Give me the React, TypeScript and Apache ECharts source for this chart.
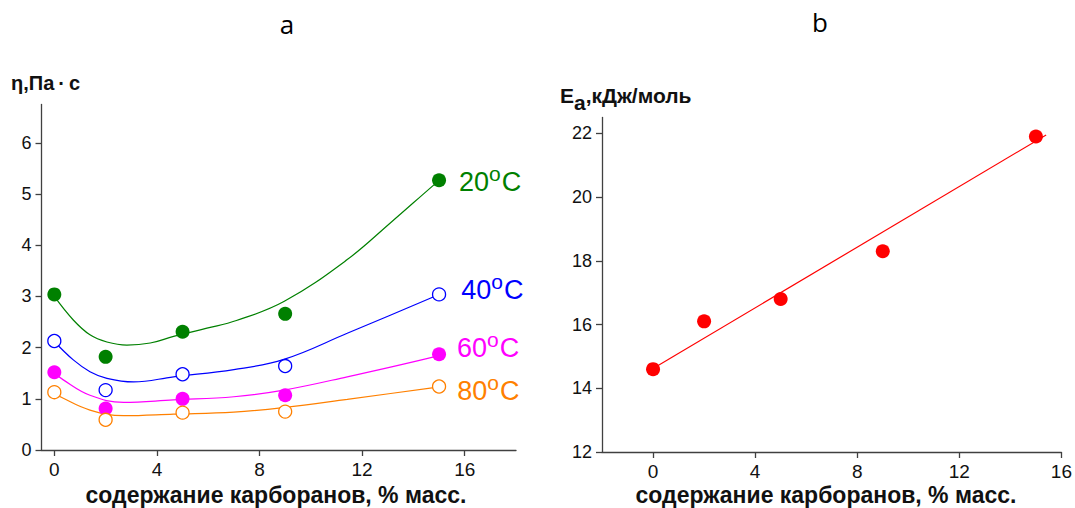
import React, { useEffect, useRef } from "react";
import * as echarts from "echarts";

// ---------- data ----------
const contentX = [0, 2, 5, 9, 15];

const eta20 = [3.04, 1.82, 2.31, 2.66, 5.27];
const eta40 = [2.13, 1.17, 1.48, 1.64, 3.04];
const eta60 = [1.52, 0.81, 1.0, 1.07, 1.87];
const eta80 = [1.13, 0.59, 0.73, 0.75, 1.24];

// fitted curves
const fit20X = [0, 0.74, 1.39, 2.05, 2.83, 3.74, 4.65, 5.95, 7.1, 8.95, 11.42, 13.11, 14.8, 15];
const fit20Y = [3.0, 2.54, 2.25, 2.11, 2.05, 2.09, 2.22, 2.38, 2.53, 2.9, 3.72, 4.44, 5.18, 5.26];
const fit40X = [0, 0.74, 1.39, 2.05, 3.09, 4.65, 7.0, 8.95, 11.42, 14.68, 15];
const fit40Y = [2.12, 1.76, 1.53, 1.4, 1.33, 1.43, 1.57, 1.77, 2.28, 2.97, 3.04];
const fit60X = [0, 0.35, 1.39, 2.7, 4.65, 7.0, 8.95, 11.42, 14.8, 15];
const fit60Y = [1.51, 1.37, 1.07, 0.93, 0.98, 1.04, 1.17, 1.43, 1.82, 1.87];
const fit80X = [0, 0.35, 1.39, 2.7, 4.65, 7.0, 8.95, 11.42, 14.8, 15];
const fit80Y = [1.12, 1.01, 0.78, 0.67, 0.7, 0.74, 0.83, 0.99, 1.22, 1.24];

const eaValues = [14.6, 16.1, 16.8, 18.3, 21.9];
const eaFitX = [0, 15.4];
const eaFitY = [14.62, 21.95];

const xTickValues = [0, 4, 8, 12, 16];
const etaTickValues = [0, 1, 2, 3, 4, 5, 6];
const eaTickValues = [12, 14, 16, 18, 20, 22];
const tempLabels = ["20", "40", "60", "80"];

// ---------- styles ----------
const FONT = "Liberation Sans";
const AXIS_COLOR = "#404040";
const GREEN = "#008000";
const BLUE = "#0000ff";
const MAGENTA = "#ff00ff";
const ORANGE = "#ff8000";
const RED = "#ff0000";

const pairs = (xs: number[], ys: number[]) => xs.map((x, i) => [x, ys[i]]);

function App() {
  const ref = useRef<HTMLDivElement>(null);

  useEffect(() => {
    if (!ref.current) return;
    const chart = echarts.init(ref.current, undefined, { renderer: "svg" });

    const axisCommon = {
      axisLine: { show: true, onZero: false, lineStyle: { color: AXIS_COLOR, width: 1.3 } },
      axisTick: { show: true, length: 6, lineStyle: { color: AXIS_COLOR, width: 1.3 } },
      splitLine: { show: false },
    };

    const xAxisFor = (gridIndex: number, min: number, max: number) => ({
      type: "value",
      gridIndex,
      min,
      max,
      ...axisCommon,
      axisTick: { ...axisCommon.axisTick, customValues: xTickValues },
      axisLabel: {
        customValues: xTickValues,
        color: "#111",
        fontSize: 19,
        fontFamily: FONT,
        margin: 10,
      },
    });

    const yAxisFor = (gridIndex: number, min: number, max: number, ticks: number[]) => ({
      type: "value",
      gridIndex,
      min,
      max,
      ...axisCommon,
      axisTick: { ...axisCommon.axisTick, customValues: ticks },
      axisLabel: {
        customValues: ticks,
        color: "#111",
        fontSize: 18,
        fontFamily: FONT,
        margin: 10,
      },
    });

    const tempColors = [GREEN, BLUE, MAGENTA, ORANGE];
    const tempFilled = [true, false, true, false];
    const tempData = [eta20, eta40, eta60, eta80];
    const fits = [
      [fit20X, fit20Y],
      [fit40X, fit40Y],
      [fit60X, fit60Y],
      [fit80X, fit80Y],
    ];
    const labelDistance = [13, 15, 11, 11];
    const labelOffsetY = [2, -4, -6, 4.5];

    const fitSeries = fits.map(([xs, ys], i) => ({
      type: "line",
      xAxisIndex: 0,
      yAxisIndex: 0,
      data: pairs(xs, ys),
      smooth: 0.4,
      symbol: "none",
      lineStyle: { color: tempColors[i], width: 1.2 },
      z: 2,
      silent: true,
    }));

    const scatterSeries = tempData.map((vals, i) => ({
      type: "scatter",
      xAxisIndex: 0,
      yAxisIndex: 0,
      symbol: "circle",
      symbolSize: tempFilled[i] ? 14 : 13,
      itemStyle: tempFilled[i]
        ? { color: tempColors[i], opacity: 1 }
        : { color: "#ffffff", borderColor: tempColors[i], borderWidth: 1.3, opacity: 1 },
      z: 3,
      data: contentX.map((x, j) => {
        const item: any = { value: [x, vals[j]] };
        if (j === contentX.length - 1) {
          item.label = {
            show: true,
            position: "right",
            distance: labelDistance[i],
            offset: [0, labelOffsetY[i]],
            formatter: `{n|${tempLabels[i]}}{s|o}{n|C}`,
            rich: {
              n: {
                fontSize: 27,
                fontFamily: FONT,
                color: tempColors[i],
                lineHeight: 30,
              },
              s: {
                fontSize: 21,
                fontFamily: FONT,
                color: tempColors[i],
                lineHeight: 30,
                padding: [0, 1, 17, 0],
              },
            },
          };
        }
        return item;
      }),
    }));

    const axisTitleStyle = {
      fontSize: 23,
      fontWeight: "bold",
      fontFamily: FONT,
      fill: "#111",
      align: "center",
      verticalAlign: "middle",
    };

    const option: any = {
      animation: false,
      backgroundColor: "#ffffff",
      textStyle: { fontFamily: FONT },
      grid: [
        { left: 41.5, top: 104.5, width: 474.5, height: 345.5 },
        { left: 602, top: 117.4, width: 461.3, height: 334.6 },
      ],
      xAxis: [xAxisFor(0, -0.5, 18), xAxisFor(1, -2, 16)],
      yAxis: [yAxisFor(0, 0, 6.75, etaTickValues), yAxisFor(1, 12, 22.5, eaTickValues)],
      series: [
        ...fitSeries,
        ...scatterSeries,
        {
          type: "line",
          xAxisIndex: 1,
          yAxisIndex: 1,
          data: pairs(eaFitX, eaFitY),
          symbol: "none",
          lineStyle: { color: RED, width: 1.2 },
          z: 2,
          silent: true,
        },
        {
          type: "scatter",
          xAxisIndex: 1,
          yAxisIndex: 1,
          symbol: "circle",
          symbolSize: 14,
          itemStyle: { color: RED, opacity: 1 },
          z: 3,
          data: pairs(contentX, eaValues),
        },
      ],
      graphic: [
        {
          type: "text",
          x: 287,
          y: 24,
          style: {
            text: "a",
            fontSize: 26,
            fontFamily: "Open Sans",
            fill: "#000",
            align: "center",
            verticalAlign: "middle",
          },
        },
        {
          type: "text",
          x: 820,
          y: 22,
          style: {
            text: "b",
            fontSize: 26,
            fontFamily: "Open Sans",
            fill: "#000",
            align: "center",
            verticalAlign: "middle",
          },
        },
        {
          type: "text",
          x: 11,
          y: 83,
          style: {
            text: "η,Па\u2009·\u2009с",
            fontSize: 20,
            fontWeight: "bold",
            fontFamily: FONT,
            fill: "#111",
            align: "left",
            verticalAlign: "middle",
          },
        },
        {
          type: "text",
          x: 560,
          y: 95,
          style: {
            text: "{b|E}{sub|a}{b|,кДж/моль}",
            fontFamily: FONT,
            fill: "#111",
            align: "left",
            verticalAlign: "middle",
            rich: {
              b: {
                fontSize: 21,
                fontWeight: "bold",
                fontFamily: FONT,
                fill: "#111",
                lineHeight: 24,
              },
              sub: {
                fontSize: 21,
                fontWeight: "bold",
                fontFamily: FONT,
                fill: "#111",
                lineHeight: 24,
                padding: [14, 0, 0, 0],
              },
            },
          },
        },
        {
          type: "text",
          x: 276,
          y: 495,
          style: { ...axisTitleStyle, text: "содержание карборанов, % масс." },
        },
        {
          type: "text",
          x: 826,
          y: 495,
          style: { ...axisTitleStyle, text: "содержание карборанов, % масс." },
        },
      ],
    };

    chart.setOption(option);
    return () => chart.dispose();
  }, []);

  return (
    <div
      ref={ref}
      style={{ position: "fixed", left: 0, top: 0, width: 1075, height: 508, background: "#fff" }}
    />
  );
}

export default App;
